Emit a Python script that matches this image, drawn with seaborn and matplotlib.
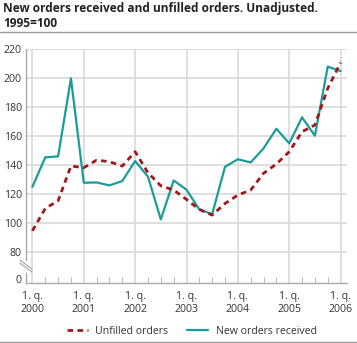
import matplotlib
matplotlib.use("Agg")
import matplotlib.pyplot as plt
from matplotlib.lines import Line2D
import seaborn as sns
import pandas as pd
import numpy as np

# ---- data ----
years = ["2000", "2001", "2002", "2003", "2004", "2005", "2006"]
tick_labels = ["1. q.\n" + y for y in years]
new_orders = [125, 145.3, 146, 199.8, 127.8, 128, 126, 129, 142.8, 132, 102.5, 129.4,
              123, 109.4, 106.2, 138.8, 144, 141.8, 151.5, 165, 155, 172.9, 160.2, 207.8, 204.8]
unfilled = [94.7, 110.1, 115.4, 139.3, 138.2, 143.4, 142.3, 139.3, 149.2, 134.7, 125.7, 122.8,
            116.3, 109.4, 105.5, 113.5, 119.3, 122.8, 134.3, 140.7, 149.2, 163, 167.6, 192.9, 210.6]
ytick_values = [80, 100, 120, 140, 160, 180, 200, 220]
title = "New orders received and unfilled orders. Unadjusted.\n1995=100"
series_names = ["Unfilled orders", "New orders received"]

TEAL = "#1a9c98"
RED = "#a01818"
GRID = "#d9d9d9"
TEXT = "#333333"

sns.set_theme(style="white")
plt.rcParams["font.family"] = ["Open Sans", "DejaVu Sans"]

fig = plt.figure(figsize=(3.57, 3.43), dpi=100)
ax = fig.add_axes([26 / 357, 1 - 283 / 343, (347 - 26) / 357, (283 - 49) / 343])

df = pd.DataFrame({"q": np.arange(len(new_orders)), "new": new_orders, "unf": unfilled})
sns.lineplot(data=df, x="q", y="new", ax=ax, color=TEAL, linewidth=1.6, zorder=3)
sns.lineplot(data=df, x="q", y="unf", ax=ax, color=RED, linewidth=2.0, zorder=4,
             linestyle=(0, (2.0, 1.6)))

ymin, ymax = 58.7, 220
ax.set_xlim(-0.5, len(new_orders) - 0.5)
ax.set_ylim(ymin, ymax)

zero_pos = 61.5
ax.set_yticks([zero_pos] + ytick_values)
ax.set_yticklabels(["0"] + [str(v) for v in ytick_values])
major_x = list(range(0, len(new_orders), 4))
ax.set_xticks(major_x)
ax.set_xticklabels(tick_labels)
ax.set_xticks([i for i in range(len(new_orders)) if i % 4 != 0], minor=True)

ax.grid(True, which="major", color=GRID, linewidth=1.2)
ax.yaxis.get_gridlines()[0].set_visible(False)
ax.set_axisbelow(True)

ax.tick_params(axis="y", length=0, labelsize=7.6, labelcolor=TEXT, pad=3)
ax.tick_params(axis="x", which="major", length=0, labelsize=7.6, labelcolor=TEXT, pad=6)
ax.tick_params(axis="x", which="minor", direction="in", length=4, width=0.8,
               color="#bbbbbb", bottom=True)
for lbl in ax.get_xticklabels():
    lbl.set_linespacing(1.15)

ax.set_xlabel("")
ax.set_ylabel("")
for s in ["top", "right", "left"]:
    ax.spines[s].set_visible(False)
ax.spines["bottom"].set_color("#aaaaaa")
ax.spines["bottom"].set_linewidth(1.0)

# broken left axis
ax.plot([0, 0], [0, 0.043], transform=ax.transAxes, color="#aaaaaa", lw=1.0, clip_on=False)
ax.plot([0, 0], [0.098, 1], transform=ax.transAxes, color="#aaaaaa", lw=1.0, clip_on=False)
for off in (0.0, 0.013):
    ax.plot([-0.0187, 0.0187], [0.085 + off, 0.047 + off], transform=ax.transAxes,
            color="#aaaaaa", lw=0.9, clip_on=False)

fig.text(3 / 357, 1 - 2 / 343, title, ha="left", va="top", fontsize=8.6,
         fontweight="bold", color="#222222", linespacing=1.2)
fig.add_artist(Line2D([0, 1], [1 - 32 / 343, 1 - 32 / 343], color="#999999", lw=1.0))
fig.add_artist(Line2D([0, 1], [1 - 342 / 343, 1 - 342 / 343], color="#999999", lw=1.0))

handles = [Line2D([], [], color=RED, lw=2.0, linestyle=(0, (2.0, 1.6))),
           Line2D([], [], color=TEAL, lw=1.6)]
fig.legend(handles, series_names, loc="center", bbox_to_anchor=(191.5 / 357, 1 - 331 / 343),
           ncol=2, frameon=False, fontsize=7.6, handlelength=2.0, handletextpad=0.7,
           columnspacing=1.8, labelcolor=TEXT)

fig.savefig("out.png", dpi=100)
